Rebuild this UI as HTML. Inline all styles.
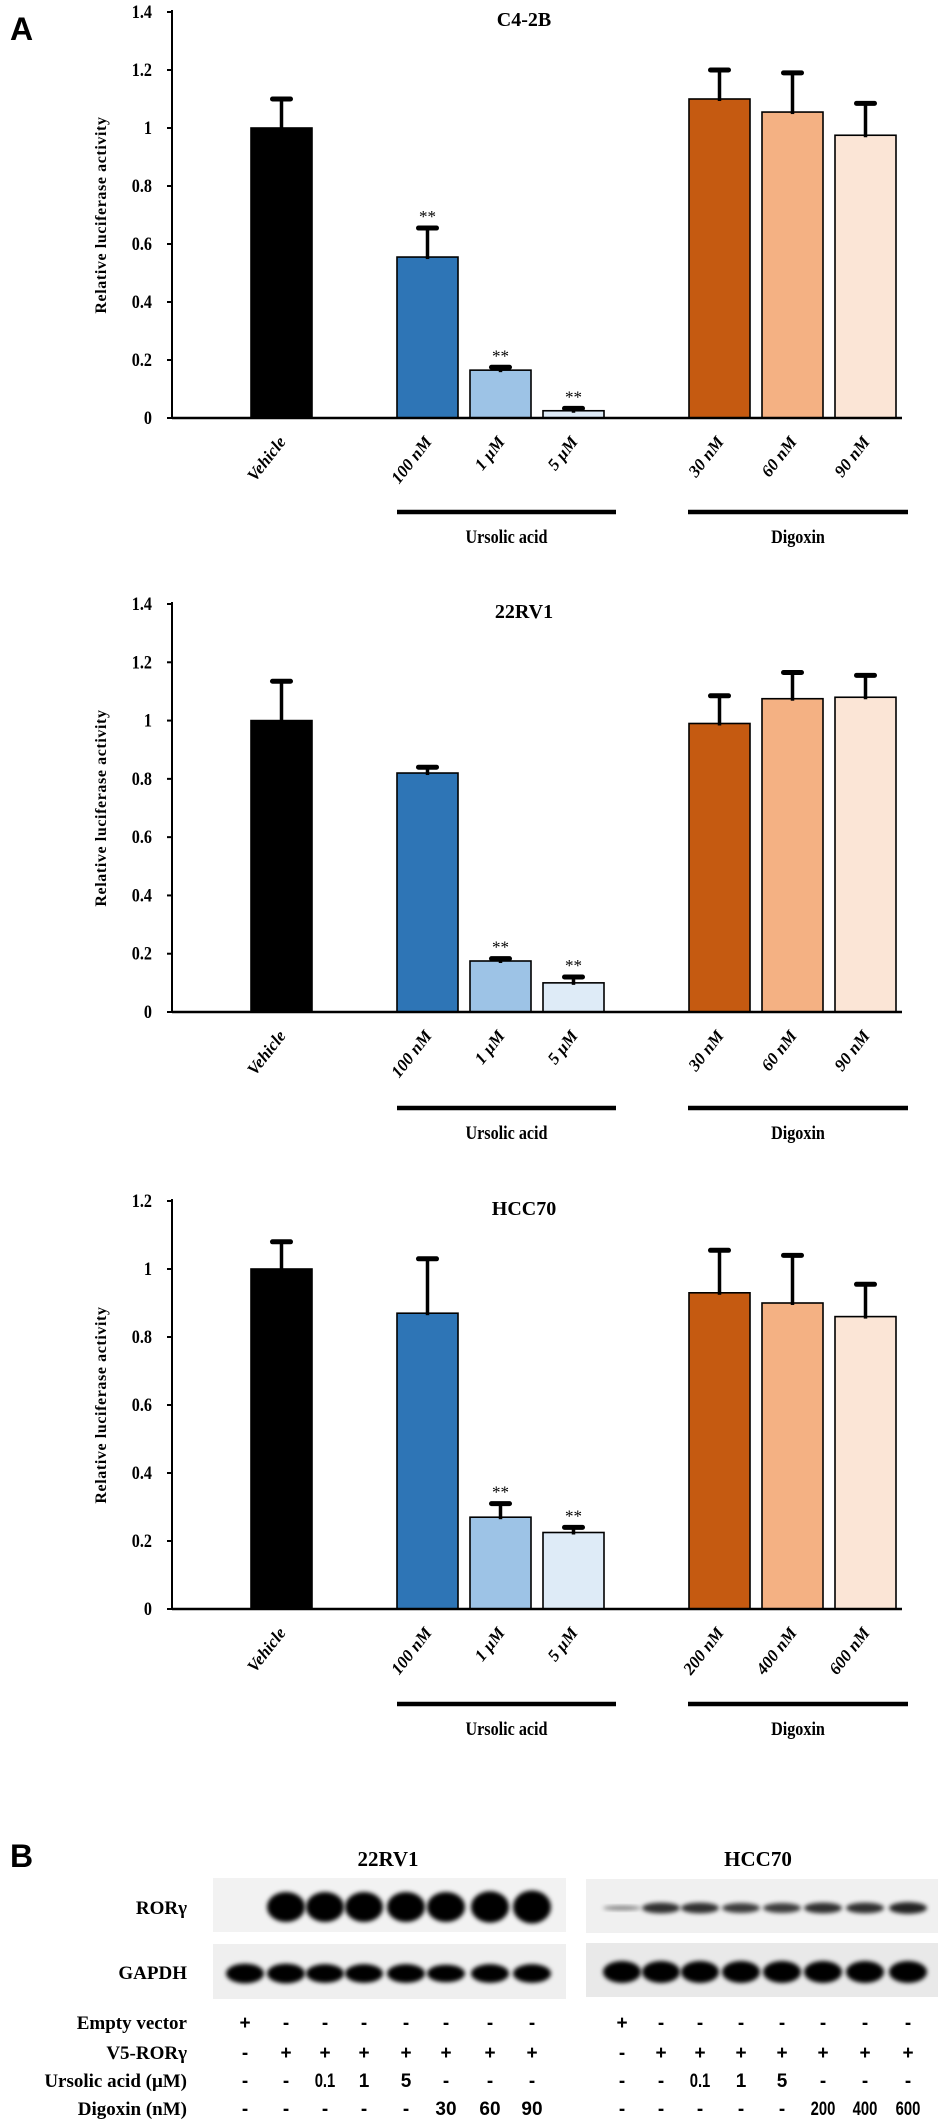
<!DOCTYPE html>
<html><head><meta charset="utf-8">
<style>
html,body{margin:0;padding:0;background:#fff;}
svg{display:block;font-family:"Liberation Serif",serif;}
</style></head>
<body>
<svg id="fig" width="938" height="2123" viewBox="0 0 938 2123" xmlns="http://www.w3.org/2000/svg">
<defs>
<filter id="blur" x="-20%" y="-50%" width="140%" height="200%"><feGaussianBlur stdDeviation="2.2"/></filter>
</defs>
<text x="10" y="40" font-family="Liberation Sans,sans-serif" font-weight="bold" font-size="32">A</text>
<text x="10" y="1867" font-family="Liberation Sans,sans-serif" font-weight="bold" font-size="32">B</text>
<g id="charts"></g>
<g id="blots"></g>
</svg>
<script>
// ---- chart data ----
const categories = ["Vehicle","100 nM","1 μM","5 μM","30 nM","60 nM","90 nM"];
const categoriesHCC = ["Vehicle","100 nM","1 μM","5 μM","200 nM","400 nM","600 nM"];
const titles = ["C4-2B","22RV1","HCC70"];
const valuesC42B = [1.0,0.555,0.165,0.025,1.10,1.055,0.975];
const errorsC42B = [0.10,0.10,0.01,0.008,0.10,0.135,0.11];
const starsC42B = [false,true,true,true,false,false,false];
const values22RV1 = [1.0,0.82,0.175,0.10,0.99,1.075,1.08];
const errors22RV1 = [0.135,0.02,0.008,0.02,0.095,0.09,0.075];
const stars22RV1 = [false,false,true,true,false,false,false];
const valuesHCC70 = [1.0,0.87,0.27,0.225,0.93,0.90,0.86];
const errorsHCC70 = [0.08,0.16,0.04,0.015,0.125,0.14,0.095];
const starsHCC70 = [false,false,true,true,false,false,false];
const ticks14 = [0,0.2,0.4,0.6,0.8,1,1.2,1.4];
const ticks12 = [0,0.2,0.4,0.6,0.8,1,1.2];
const groupLabels = ["Ursolic acid","Digoxin"];

const NS="http://www.w3.org/2000/svg";
const colors=["#000000","#2e75b6","#9dc3e6","#deebf7","#c55a11","#f4b183","#fbe5d6"];
const slots=[0,2,3,4,6,7,8];
function mk(tag,attrs,parent){const e=document.createElementNS(NS,tag);for(const k in attrs)e.setAttribute(k,attrs[k]);parent.appendChild(e);return e;}

function drawChart(parent,cfg){
  const g=mk('g',{},parent);
  
  
  const axX=172, axEnd=902, y0=cfg.zero, yTop=cfg.top, max=cfg.ticks[cfg.ticks.length-1];
  const yScale=v=>y0-(v/max)*(y0-yTop);
  const xScale=i=>251+slots[i]*73;
  const bw=61;
  const t=mk('text',{x:524,y:yTop+14,'text-anchor':'middle','font-size':20,'font-weight':'bold'},g);
  t.textContent=cfg.title;
  
  
  const yl=mk('text',{x:0,y:0,'text-anchor':'middle','font-size':16,'font-weight':'bold','letter-spacing':'0.6',transform:`translate(106,${(y0+yTop)/2}) rotate(-90)`},g);
  yl.textContent="Relative luciferase activity";
  
  
  cfg.ticks.forEach(v=>{
    const y=yScale(v);
    mk('line',{x1:axX-5,x2:axX,y1:y,y2:y,stroke:'#000','stroke-width':2},g);
    const tl=mk('text',{x:axX-20,y:y+6,'text-anchor':'end','font-size':19,'font-weight':'bold',transform:`translate(${axX-20},0) scale(0.85,1) translate(${-(axX-20)},0)`},g);
    tl.textContent=String(v);
    
    
  });
  cfg.values.forEach((v,i)=>{
    const x=xScale(i), y=yScale(v);
    const r=mk('rect',{x:x,y:y,width:bw,height:y0-y,fill:colors[i],stroke:'#000','stroke-width':1.6},g);
    
    
    const cx=x+bw/2, ye=yScale(v+cfg.errors[i]);
    const el=mk('line',{x1:cx,x2:cx,y1:y+2,y2:ye,stroke:'#000','stroke-width':3.5},g);
    
    
    mk('line',{x1:cx-9,x2:cx+9,y1:ye,y2:ye,stroke:'#000','stroke-width':5,'stroke-linecap':'round'},g);
    if(cfg.stars[i]){
      const s=mk('text',{x:cx,y:ye-6,'text-anchor':'middle','font-size':17},g);
      s.textContent="**";
      
      
    }
    const lab=mk('text',{x:0,y:0,'text-anchor':'end','font-size':17,'font-weight':'bold','font-style':'italic',transform:`translate(${cx+5},${y0+24}) rotate(-52)`},g);
    lab.textContent=cfg.cats[i];
    
    
  });
  mk('line',{x1:axX,x2:axX,y1:yTop-2,y2:y0,stroke:'#000','stroke-width':2},g);
  mk('line',{x1:axX,x2:axEnd,y1:y0,y2:y0,stroke:'#000','stroke-width':2.5},g);
  const gy=cfg.groupY;
  [[397,616],[688,908]].forEach((p,k)=>{
    const gl=mk('line',{x1:p[0],x2:p[1],y1:gy,y2:gy,stroke:'#000','stroke-width':4.5},g);
    
    
    const gt=mk('text',{x:(p[0]+p[1])/2,y:gy+31,'text-anchor':'middle','font-size':19,'font-weight':'bold',transform:`translate(${(p[0]+p[1])/2},0) scale(0.85,1) translate(${-(p[0]+p[1])/2},0)`},g);
    gt.textContent=groupLabels[k];
    
    
  });
}
const charts=document.getElementById('charts');
drawChart(charts,{title:titles[0],cats:categories,values:valuesC42B,errors:errorsC42B,stars:starsC42B,ticks:ticks14,zero:418,top:12,groupY:512});
drawChart(charts,{title:titles[1],cats:categories,values:values22RV1,errors:errors22RV1,stars:stars22RV1,ticks:ticks14,zero:1012,top:604,groupY:1108});
drawChart(charts,{title:titles[2],cats:categoriesHCC,values:valuesHCC70,errors:errorsHCC70,stars:starsHCC70,ticks:ticks12,zero:1609,top:1201,groupY:1704});

// ---- western blot panel ----
const lanesL=[245,286,325,364,406,446,490,532];
const lanesR=[622,661,700,741,782,823,865,908];
const rorL=[0,1,1,1,1,1,1.05,1.1];
const rorR=[0.25,0.6,0.6,0.55,0.55,0.6,0.6,0.65];
const gapL=[0.9,0.9,0.85,0.85,0.85,0.8,0.85,0.85];
const gapR=[1,1,1,1,1,1,1,1];
const rowEmpty=["+","-","-","-","-","-","-","-"];
const rowV5=["-","+","+","+","+","+","+","+"];
const rowUA=["-","-","0.1","1","5","-","-","-"];
const rowDigL=["-","-","-","-","-","30","60","90"];
const rowDigR=["-","-","-","-","-","200","400","600"];
const rowNames=["Empty vector","V5-RORγ","Ursolic acid (μM)","Digoxin (nM)"];
const rowY=[2029,2059,2087,2115];
const blots=document.getElementById('blots');
function T(txt,attrs,name){const e=mk('text',attrs,blots);e.textContent=txt;return e;}
T("22RV1",{x:388,y:1866,'text-anchor':'middle','font-size':21,'font-weight':'bold'},'blot-title-22rv1');
T("HCC70",{x:758,y:1866,'text-anchor':'middle','font-size':21,'font-weight':'bold'},'blot-title-hcc70');
T("RORγ",{x:187,y:1914,'text-anchor':'end','font-size':19,'font-weight':'bold'},'row-label-ror');
T("GAPDH",{x:187,y:1979,'text-anchor':'end','font-size':19,'font-weight':'bold'},'row-label-gapdh');
function blot(x1,x2,y1,y2,lanes,inten,bh,name,bg){
  const r=mk('rect',{x:x1,y:y1,width:x2-x1,height:y2-y1,fill:bg},blots);
  
  
  const cy=(y1+y2)/2+2;
  lanes.forEach((lx,i)=>{
    if(inten[i]<=0)return;
    const b=mk('ellipse',{cx:lx,cy:cy,rx:19,ry:bh*inten[i]/2,fill:'#000','fill-opacity':Math.min(1,inten[i]+0.2),filter:'url(#blur)'},blots);
    
    
  });
}
blot(213,566,1878,1932,lanesL,rorL,30,'blot-ror-22rv1','#f2f2f2');
blot(213,566,1944,1999,lanesL,gapL,22,'blot-gapdh-22rv1','#efefef');
blot(586,938,1879,1933,lanesR,rorR,18,'blot-ror-hcc70','#f0f0f0');
blot(586,938,1943,1997,lanesR,gapR,22,'blot-gapdh-hcc70','#e9e9e9');
const rowsL=[rowEmpty,rowV5,rowUA,rowDigL], rowsR=[rowEmpty,rowV5,rowUA,rowDigR];
function valAttrs(v,x,y){
  const a={x:x,y:y,'text-anchor':'middle','font-size':19,'font-weight':'bold','font-family':'Liberation Sans,sans-serif'};
  if(v.length>2){a.transform=`translate(${x},0) scale(0.78,1) translate(${-x},0)`;}
  return a;
}
rowNames.forEach((n,r)=>{
  T(n,{x:187,y:rowY[r],'text-anchor':'end','font-size':19,'font-weight':'bold'},'condition-label');
  rowsL[r].forEach((v,i)=>T(v,valAttrs(v,lanesL[i],rowY[r]),'condition-value'));
  rowsR[r].forEach((v,i)=>T(v,valAttrs(v,lanesR[i],rowY[r]),'condition-value'));
});
</script>
</body></html>
